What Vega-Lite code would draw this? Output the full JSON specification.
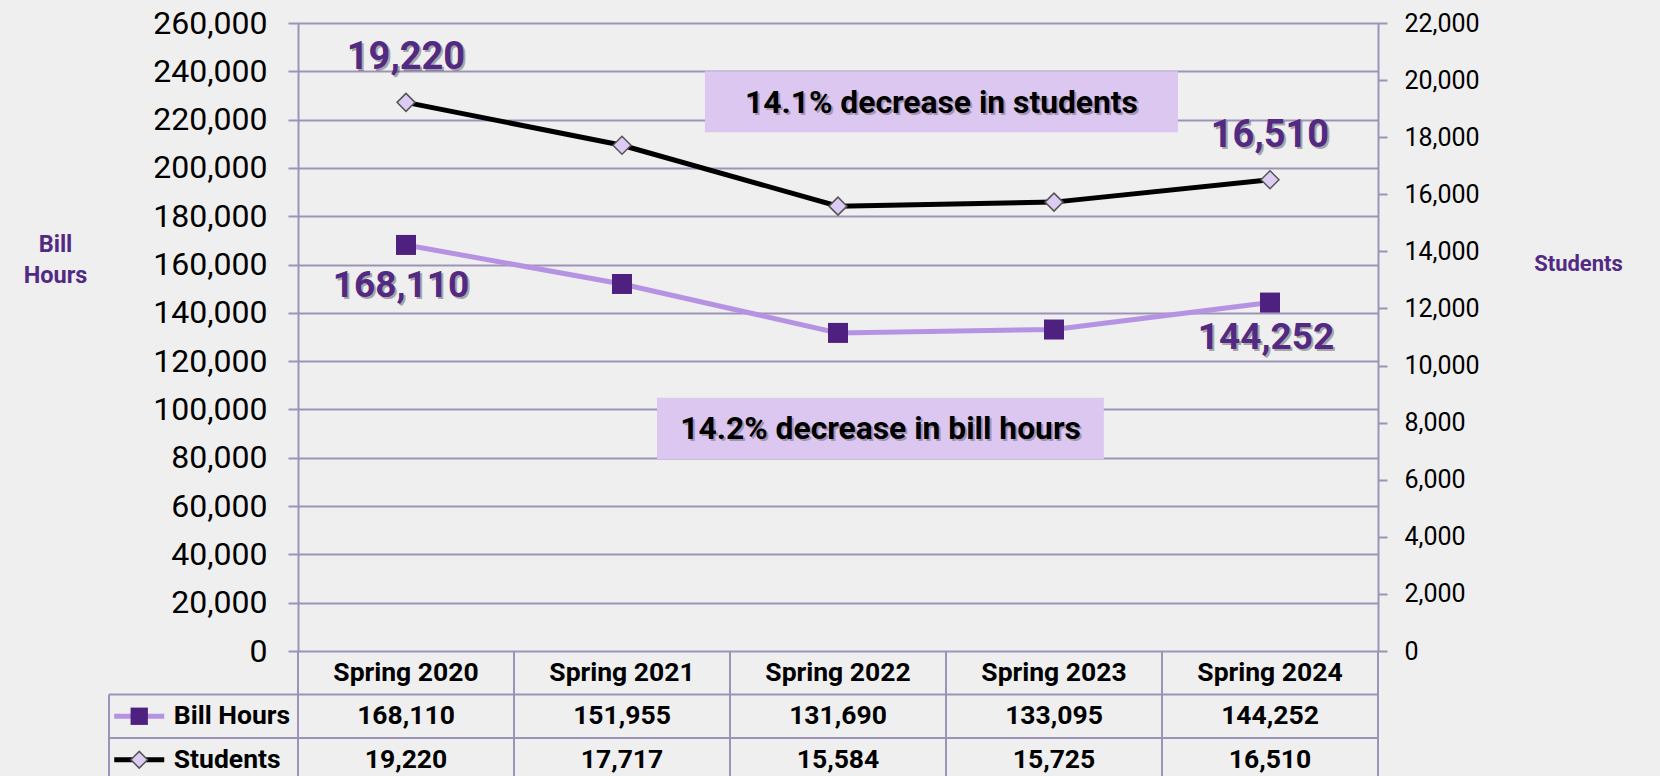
{
  "$schema": "https://vega.github.io/schema/vega-lite/v6.json",
  "width": 1080,
  "height": 628,
  "autosize": {"type": "none"},
  "padding": {"left": 298, "top": 23, "right": 282, "bottom": 125},
  "background": "#eeefee",
  "config": {"view": {"stroke": null}, "font": "Roboto"},
  "datasets": {
    "terms": [
      {"term": "Spring 2020", "Bill Hours": 168110, "Students": 19220},
      {"term": "Spring 2021", "Bill Hours": 151955, "Students": 17717},
      {"term": "Spring 2022", "Bill Hours": 131690, "Students": 15584},
      {"term": "Spring 2023", "Bill Hours": 133095, "Students": 15725},
      {"term": "Spring 2024", "Bill Hours": 144252, "Students": 16510}
    ],
    "notes": [
      {"note": "14.1% decrease in students", "box": "students"},
      {"note": "14.2% decrease in bill hours", "box": "bill hours"}
    ]
  },
  "data": {"name": "terms"},
  "layer": [
    {
      "encoding": {
        "x": {"field": "term", "type": "nominal", "bandPosition": 0.5, "axis": null,
              "scale": {"type": "band", "domain": ["Spring 2020", "Spring 2021", "Spring 2022", "Spring 2023", "Spring 2024"], "paddingInner": 0, "paddingOuter": 0}},
        "y": {"field": "Bill Hours", "type": "quantitative",
              "scale": {"domain": [0, 260000], "nice": false, "zero": true},
              "axis": {
                "orient": "left",
                "values": [0, 20000, 40000, 60000, 80000, 100000, 120000, 140000, 160000, 180000, 200000, 220000, 240000, 260000],
                "labelExpr": "format(datum.value, ',')",
                "grid": true, "gridColor": "#9d93b8", "gridWidth": 2, "gridOpacity": 1,
                "domainColor": "#9d93b8", "domainWidth": 2,
                "tickColor": "#9d93b8", "tickWidth": 2, "tickSize": 10,
                "labelFont": "Roboto", "labelFontSize": 32, "labelColor": "#000000", "labelPadding": 21, "labelOverlap": false,
                "title": ["Bill", "Hours"], "titleAngle": 0, "titleX": -243, "titleY": 221,
                "titleAlign": "center", "titleBaseline": "middle",
                "titleFont": "Roboto", "titleFontSize": 23.5, "titleFontWeight": "bold", "titleColor": "#532a83", "titleLineHeight": 31
              }}
      },
      "layer": [
        {"mark": {"type": "line", "color": "#b592e2", "strokeWidth": 5}},
        {"mark": {"type": "point", "shape": "square", "filled": true, "size": 400, "color": "#4e2080", "opacity": 1}},
        {
          "transform": [{"filter": "datum.term === 'Spring 2020'"}],
          "mark": {"type": "text", "font": "Roboto", "fontSize": 37, "fontWeight": "bold", "color": "#000000", "opacity": 0.3, "align": "center", "baseline": "alphabetic", "dx": -3, "dy": 54},
          "encoding": {"text": {"field": "Bill Hours", "type": "quantitative", "format": ","}}
        },
        {
          "transform": [{"filter": "datum.term === 'Spring 2020'"}],
          "mark": {"type": "text", "font": "Roboto", "fontSize": 37, "fontWeight": "bold", "color": "#532a83", "align": "center", "baseline": "alphabetic", "dx": -5, "dy": 52},
          "encoding": {"text": {"field": "Bill Hours", "type": "quantitative", "format": ","}}
        },
        {
          "transform": [{"filter": "datum.term === 'Spring 2024'"}],
          "mark": {"type": "text", "font": "Roboto", "fontSize": 37, "fontWeight": "bold", "color": "#000000", "opacity": 0.3, "align": "center", "baseline": "alphabetic", "dx": -2, "dy": 48},
          "encoding": {"text": {"field": "Bill Hours", "type": "quantitative", "format": ","}}
        },
        {
          "transform": [{"filter": "datum.term === 'Spring 2024'"}],
          "mark": {"type": "text", "font": "Roboto", "fontSize": 37, "fontWeight": "bold", "color": "#532a83", "align": "center", "baseline": "alphabetic", "dx": -4, "dy": 46},
          "encoding": {"text": {"field": "Bill Hours", "type": "quantitative", "format": ","}}
        }
      ]
    },
    {
      "encoding": {
        "x": {"field": "term", "type": "nominal", "bandPosition": 0.5, "axis": null,
              "scale": {"type": "band", "domain": ["Spring 2020", "Spring 2021", "Spring 2022", "Spring 2023", "Spring 2024"], "paddingInner": 0, "paddingOuter": 0}},
        "y": {"field": "Students", "type": "quantitative",
              "scale": {"domain": [0, 22000], "nice": false, "zero": true},
              "axis": {
                "orient": "right",
                "values": [0, 2000, 4000, 6000, 8000, 10000, 12000, 14000, 16000, 18000, 20000, 22000],
                "labelExpr": "format(datum.value, ',')",
                "grid": false,
                "domainColor": "#9d93b8", "domainWidth": 2,
                "tickColor": "#9d93b8", "tickWidth": 2, "tickSize": 9,
                "labelFont": "Roboto", "labelFontSize": 25, "labelColor": "#000000", "labelPadding": 17, "labelOverlap": false,
                "title": "Students", "titleAngle": 0, "titleX": 200, "titleY": 240,
                "titleAlign": "center", "titleBaseline": "middle",
                "titleFont": "Roboto", "titleFontSize": 22, "titleFontWeight": "bold", "titleColor": "#532a83"
              }}
      },
      "layer": [
        {"mark": {"type": "line", "color": "#000000", "strokeWidth": 5}},
        {"mark": {"type": "point", "shape": "diamond", "filled": true, "size": 324, "fill": "#dccbf2", "stroke": "#555555", "strokeWidth": 1.5, "opacity": 1}},
        {
          "transform": [{"filter": "datum.term === 'Spring 2020' || datum.term === 'Spring 2024'"}],
          "mark": {"type": "text", "font": "Roboto", "fontSize": 38, "fontWeight": "bold", "color": "#000000", "opacity": 0.3, "align": "center", "baseline": "alphabetic", "dx": 2, "dy": -31},
          "encoding": {"text": {"field": "Students", "type": "quantitative", "format": ","}}
        },
        {
          "transform": [{"filter": "datum.term === 'Spring 2020' || datum.term === 'Spring 2024'"}],
          "mark": {"type": "text", "font": "Roboto", "fontSize": 38, "fontWeight": "bold", "color": "#532a83", "align": "center", "baseline": "alphabetic", "dx": 0, "dy": -33},
          "encoding": {"text": {"field": "Students", "type": "quantitative", "format": ","}}
        }
      ]
    },
    {
      "encoding": {
        "x": {"field": "term", "type": "nominal", "bandPosition": 0.5, "axis": null,
              "scale": {"type": "band", "domain": ["Spring 2020", "Spring 2021", "Spring 2022", "Spring 2023", "Spring 2024"], "paddingInner": 0, "paddingOuter": 0}}
      },
      "layer": [
        {
          "mark": {"type": "rule", "color": "#9d93b8", "strokeWidth": 2},
          "encoding": {
            "x": {"field": "term", "type": "nominal", "bandPosition": 0},
            "y": {"datum": "header", "type": "nominal", "bandPosition": 0, "axis": null,
                  "scale": {"type": "band", "domain": ["header", "Bill Hours", "Students", "end"], "range": [628, 802], "paddingInner": 0, "paddingOuter": 0}},
            "y2": {"datum": "end", "bandPosition": 0}
          }
        },
        {
          "data": {"values": [{"edge": "right"}]},
          "mark": {"type": "rule", "color": "#9d93b8", "strokeWidth": 2},
          "encoding": {
            "x": {"datum": "Spring 2024", "type": "nominal", "bandPosition": 1},
            "y": {"datum": "header", "type": "nominal", "bandPosition": 0, "axis": null,
                  "scale": {"type": "band", "domain": ["header", "Bill Hours", "Students", "end"], "range": [628, 802], "paddingInner": 0, "paddingOuter": 0}},
            "y2": {"datum": "end", "bandPosition": 0}
          }
        },
        {
          "data": {"values": [{"edge": "legend"}]},
          "mark": {"type": "rule", "color": "#9d93b8", "strokeWidth": 2},
          "encoding": {
            "x": {"datum": "Spring 2020", "type": "nominal", "bandPosition": -0.875},
            "y": {"datum": "Bill Hours", "type": "nominal", "bandPosition": 0, "axis": null,
                  "scale": {"type": "band", "domain": ["header", "Bill Hours", "Students", "end"], "range": [628, 802], "paddingInner": 0, "paddingOuter": 0}},
            "y2": {"datum": "end", "bandPosition": 0}
          }
        },
        {
          "data": {"values": [{"row": "Bill Hours"}, {"row": "Students"}]},
          "mark": {"type": "rule", "color": "#9d93b8", "strokeWidth": 2},
          "encoding": {
            "x": {"datum": "Spring 2020", "type": "nominal", "bandPosition": -0.875},
            "x2": {"datum": "Spring 2024", "bandPosition": 1},
            "y": {"field": "row", "type": "nominal", "bandPosition": 0, "axis": null,
                  "scale": {"type": "band", "domain": ["header", "Bill Hours", "Students", "end"], "range": [628, 802], "paddingInner": 0, "paddingOuter": 0}}
          }
        },
        {
          "mark": {"type": "text", "font": "Roboto", "fontSize": 26.5, "fontWeight": "bold", "color": "#000000", "align": "center", "baseline": "middle"},
          "encoding": {
            "x": {"field": "term", "type": "nominal", "bandPosition": 0.5},
            "y": {"datum": "header", "type": "nominal", "bandPosition": 0.5, "axis": null,
                  "scale": {"type": "band", "domain": ["header", "Bill Hours", "Students", "end"], "range": [628, 802], "paddingInner": 0, "paddingOuter": 0}},
            "text": {"field": "term", "type": "nominal"}
          }
        },
        {
          "transform": [{"fold": ["Bill Hours", "Students"], "as": ["row", "value"]}],
          "mark": {"type": "text", "font": "Roboto", "fontSize": 26.5, "fontWeight": "bold", "color": "#000000", "align": "center", "baseline": "middle"},
          "encoding": {
            "x": {"field": "term", "type": "nominal", "bandPosition": 0.5},
            "y": {"field": "row", "type": "nominal", "bandPosition": 0.5, "axis": null,
                  "scale": {"type": "band", "domain": ["header", "Bill Hours", "Students", "end"], "range": [628, 802], "paddingInner": 0, "paddingOuter": 0}},
            "text": {"field": "value", "type": "quantitative", "format": ","}
          }
        },
        {
          "data": {"values": [{"row": "Bill Hours"}, {"row": "Students"}]},
          "mark": {"type": "text", "font": "Roboto", "fontSize": 26.5, "fontWeight": "bold", "color": "#000000", "align": "left", "baseline": "middle"},
          "encoding": {
            "x": {"datum": "Spring 2020", "type": "nominal", "bandPosition": -0.575},
            "y": {"field": "row", "type": "nominal", "bandPosition": 0.5, "axis": null,
                  "scale": {"type": "band", "domain": ["header", "Bill Hours", "Students", "end"], "range": [628, 802], "paddingInner": 0, "paddingOuter": 0}},
            "text": {"field": "row", "type": "nominal"}
          }
        },
        {
          "data": {"values": [{"row": "Bill Hours"}]},
          "mark": {"type": "point", "shape": "stroke", "size": 2500, "strokeWidth": 5, "color": "#b592e2", "opacity": 1},
          "encoding": {
            "x": {"datum": "Spring 2020", "type": "nominal", "bandPosition": -0.735},
            "y": {"field": "row", "type": "nominal", "bandPosition": 0.5, "axis": null,
                  "scale": {"type": "band", "domain": ["header", "Bill Hours", "Students", "end"], "range": [628, 802], "paddingInner": 0, "paddingOuter": 0}}
          }
        },
        {
          "data": {"values": [{"row": "Bill Hours"}]},
          "mark": {"type": "point", "shape": "square", "filled": true, "size": 300, "color": "#4e2080", "opacity": 1},
          "encoding": {
            "x": {"datum": "Spring 2020", "type": "nominal", "bandPosition": -0.735},
            "y": {"field": "row", "type": "nominal", "bandPosition": 0.5, "axis": null,
                  "scale": {"type": "band", "domain": ["header", "Bill Hours", "Students", "end"], "range": [628, 802], "paddingInner": 0, "paddingOuter": 0}}
          }
        },
        {
          "data": {"values": [{"row": "Students"}]},
          "mark": {"type": "point", "shape": "stroke", "size": 2500, "strokeWidth": 5, "color": "#000000", "opacity": 1},
          "encoding": {
            "x": {"datum": "Spring 2020", "type": "nominal", "bandPosition": -0.735},
            "y": {"field": "row", "type": "nominal", "bandPosition": 0.5, "axis": null,
                  "scale": {"type": "band", "domain": ["header", "Bill Hours", "Students", "end"], "range": [628, 802], "paddingInner": 0, "paddingOuter": 0}}
          }
        },
        {
          "data": {"values": [{"row": "Students"}]},
          "mark": {"type": "point", "shape": "diamond", "filled": true, "size": 280, "fill": "#dccbf2", "stroke": "#555555", "strokeWidth": 1.5, "opacity": 1},
          "encoding": {
            "x": {"datum": "Spring 2020", "type": "nominal", "bandPosition": -0.735},
            "y": {"field": "row", "type": "nominal", "bandPosition": 0.5, "axis": null,
                  "scale": {"type": "band", "domain": ["header", "Bill Hours", "Students", "end"], "range": [628, 802], "paddingInner": 0, "paddingOuter": 0}}
          }
        }
      ]
    },
    {
      "data": {"name": "notes"},
      "encoding": {
        "x": {"field": "term", "type": "nominal", "bandPosition": 0.5, "axis": null,
              "scale": {"type": "band", "domain": ["Spring 2020", "Spring 2021", "Spring 2022", "Spring 2023", "Spring 2024"], "paddingInner": 0, "paddingOuter": 0}}
      },
      "layer": [
        {
          "transform": [{"filter": "datum.box === 'students'"}],
          "mark": {"type": "rect", "color": "#dcc7f1", "opacity": 1},
          "encoding": {
            "x": {"datum": "Spring 2021", "type": "nominal", "bandPosition": 0.884},
            "x2": {"datum": "Spring 2024", "bandPosition": 0.074},
            "y": {"datum": 240000, "type": "quantitative", "axis": null, "scale": {"domain": [0, 260000], "nice": false, "zero": true}},
            "y2": {"datum": 214800}
          }
        },
        {
          "transform": [{"filter": "datum.box === 'bill hours'"}],
          "mark": {"type": "rect", "color": "#dcc7f1", "opacity": 1},
          "encoding": {
            "x": {"datum": "Spring 2021", "type": "nominal", "bandPosition": 0.662},
            "x2": {"datum": "Spring 2023", "bandPosition": 0.731},
            "y": {"datum": 104800, "type": "quantitative", "axis": null, "scale": {"domain": [0, 260000], "nice": false, "zero": true}},
            "y2": {"datum": 79500}
          }
        },
        {
          "transform": [{"filter": "datum.box === 'students'"}],
          "mark": {"type": "text", "font": "Roboto", "fontSize": 31.8, "fontWeight": "bold", "color": "#000000", "opacity": 0.25, "align": "center", "baseline": "middle", "dx": 2, "dy": 2},
          "encoding": {
            "x": {"datum": "Spring 2022", "type": "nominal", "bandPosition": 0.979},
            "y": {"datum": 227000, "type": "quantitative", "axis": null, "scale": {"domain": [0, 260000], "nice": false, "zero": true}},
            "text": {"field": "note", "type": "nominal"}
          }
        },
        {
          "transform": [{"filter": "datum.box === 'students'"}],
          "mark": {"type": "text", "font": "Roboto", "fontSize": 31.8, "fontWeight": "bold", "color": "#000000", "align": "center", "baseline": "middle"},
          "encoding": {
            "x": {"datum": "Spring 2022", "type": "nominal", "bandPosition": 0.979},
            "y": {"datum": 227000, "type": "quantitative", "axis": null, "scale": {"domain": [0, 260000], "nice": false, "zero": true}},
            "text": {"field": "note", "type": "nominal"}
          }
        },
        {
          "transform": [{"filter": "datum.box === 'bill hours'"}],
          "mark": {"type": "text", "font": "Roboto", "fontSize": 31.8, "fontWeight": "bold", "color": "#000000", "opacity": 0.25, "align": "center", "baseline": "middle", "dx": 2, "dy": 2},
          "encoding": {
            "x": {"datum": "Spring 2022", "type": "nominal", "bandPosition": 0.697},
            "y": {"datum": 92000, "type": "quantitative", "axis": null, "scale": {"domain": [0, 260000], "nice": false, "zero": true}},
            "text": {"field": "note", "type": "nominal"}
          }
        },
        {
          "transform": [{"filter": "datum.box === 'bill hours'"}],
          "mark": {"type": "text", "font": "Roboto", "fontSize": 31.8, "fontWeight": "bold", "color": "#000000", "align": "center", "baseline": "middle"},
          "encoding": {
            "x": {"datum": "Spring 2022", "type": "nominal", "bandPosition": 0.697},
            "y": {"datum": 92000, "type": "quantitative", "axis": null, "scale": {"domain": [0, 260000], "nice": false, "zero": true}},
            "text": {"field": "note", "type": "nominal"}
          }
        }
      ]
    }
  ],
  "resolve": {"scale": {"y": "independent"}, "axis": {"y": "independent"}}
}
